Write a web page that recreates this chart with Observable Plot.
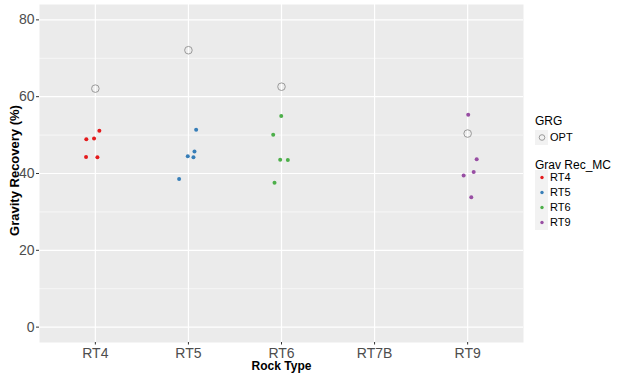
<!DOCTYPE html>
<html><head><meta charset="utf-8">
<script src="https://cdn.jsdelivr.net/npm/d3@7"></script>
<script src="https://cdn.jsdelivr.net/npm/@observablehq/plot@0.6"></script>
<style>
body{margin:0;background:#fff;font-family:Arial,"Liberation Sans",sans-serif;}
#wrap{position:relative;width:627px;height:376px;overflow:hidden}
.lg{position:absolute;color:#000;white-space:nowrap;line-height:11px;height:11px}
.key{position:absolute;width:13px;height:15px;background:#f2f2f2}
</style></head><body><div id="wrap"></div>
<script>
// ---- data ----
const categories = ["RT4","RT5","RT6","RT7B","RT9"];
const optRock  = ["RT4","RT5","RT6","RT9"];
const optValue = [62.1, 72.1, 62.6, 50.4];
const mcRock   = ["RT4","RT4","RT4","RT4","RT4",
                  "RT5","RT5","RT5","RT5","RT5",
                  "RT6","RT6","RT6","RT6","RT6",
                  "RT9","RT9","RT9","RT9","RT9"];
const mcValue  = [48.9, 49.1, 51.1, 44.3, 44.2,
                  51.4, 45.7, 44.5, 44.2, 38.6,
                  55.0, 50.1, 43.6, 43.5, 37.6,
                  55.3, 43.7, 40.4, 39.5, 33.8];
const mcJitter = [-0.097, -0.014, 0.043, -0.100, 0.022,
                   0.083, 0.065, -0.007, 0.054, -0.100,
                  -0.003, -0.089, -0.014, 0.068, -0.075,
                   0.006, 0.097, 0.065, -0.043, 0.039];
const mcLevels = ["RT4","RT5","RT6","RT9"];
const mcColors = ["#E41A1C","#377EB8","#4DAF4A","#984EA3"];
const yMajor = [0, 20, 40, 60, 80];
const yMinor = [10, 30, 50, 70];
const xTitle = "Rock Type";
const yTitle = "Gravity Recovery (%)";
const optLegendTitle = "GRG";
const optLabel = "OPT";
const mcLegendTitle = "Grav Rec_MC";

// ---- build ----
const xIdx = d3.range(categories.length);
const opt = optRock.map((r,i)=>({rock:r, x:categories.indexOf(r), value:optValue[i]}));
const mc  = mcRock.map((r,i)=>({rock:r, x:categories.indexOf(r)+mcJitter[i], value:mcValue[i]}));

const chart = Plot.plot({
  width:627, height:376,
  marginLeft:39, marginRight:104, marginTop:4, marginBottom:34,
  style:{fontFamily:"Arial, 'Liberation Sans', sans-serif", background:"white"},
  x:{domain:[-0.6, 4.6], label:null},
  y:{domain:[-4, 84], label:null},
  color:{domain:mcLevels, range:mcColors},
  marks:[
    Plot.frame({fill:"#EBEBEB", stroke:"none"}),
    Plot.gridY(yMinor, {stroke:"white", strokeOpacity:1, strokeWidth:0.6}),
    Plot.gridY(yMajor, {stroke:"white", strokeOpacity:1, strokeWidth:1.2}),
    Plot.gridX(xIdx, {stroke:"white", strokeOpacity:1, strokeWidth:1.2}),
    Plot.axisY(yMajor, {tickSize:3, tickPadding:2, fontSize:14, fill:"#4D4D4D", stroke:"#333", label:null}),
    Plot.axisX(xIdx, {tickFormat:i=>categories[i], tickSize:2.5, tickPadding:3, fontSize:14, fill:"#4D4D4D", stroke:"#333", label:null}),
    Plot.dot(opt, {x:"x", y:"value", r:3.8, stroke:"#9a9a9a", strokeWidth:1, fill:"none"}),
    Plot.dot(mc, {x:"x", y:"value", r:2, fill:"rock", stroke:"none"}),
    Plot.text([xTitle], {text:d=>d, frameAnchor:"bottom", lineAnchor:"middle", dy:24, fontWeight:"bold", fontSize:12, fill:"black"}),
    Plot.text([yTitle], {text:d=>d, frameAnchor:"left", textAnchor:"middle", lineAnchor:"middle", rotate:-90, dx:-25, dy:-3, fontWeight:"bold", fontSize:13, fill:"black"})
  ]
});
const wrap = document.getElementById("wrap");
wrap.appendChild(chart);

// ---- legend (HTML) ----
function addText(txt, left, cy, size){
  const d = document.createElement("div");
  d.className = "lg"; d.textContent = txt;
  d.style.left = left+"px"; d.style.top = (cy-5.5)+"px"; d.style.fontSize = size+"px";
  wrap.appendChild(d);
}
function addKey(cy, svgInner){
  const k = document.createElement("div");
  k.className = "key"; k.style.left = "535px"; k.style.top = (cy-7.5)+"px";
  k.innerHTML = `<svg width="13" height="15">${svgInner}</svg>`;
  wrap.appendChild(k);
}
addText(optLegendTitle, 535, 121, 12);
addKey(137.5, `<circle cx="7" cy="7.5" r="2.8" fill="none" stroke="#9a9a9a" stroke-width="1"/>`);
addText(optLabel, 550, 137.5, 11);
addText(mcLegendTitle, 535, 165, 12);
mcLevels.forEach((lv,i)=>{
  const cy = 177.3 + i*14.9;
  addKey(cy, `<circle cx="7" cy="7.5" r="1.7" fill="${mcColors[i]}"/>`);
  addText(lv, 550, cy, 11);
});
</script></body></html>
